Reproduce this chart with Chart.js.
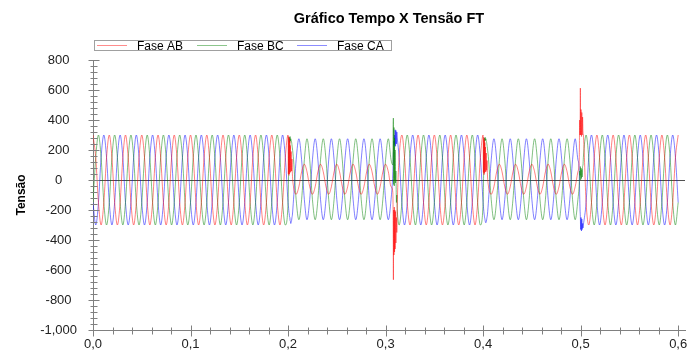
<!DOCTYPE html>
<html lang="pt-BR">
<head>
<meta charset="utf-8">
<title>Gráfico Tempo X Tensão FT</title>
<script src="https://cdn.jsdelivr.net/npm/chart.js@4.4.1/dist/chart.umd.min.js"></script>
<style>
    html, body { margin: 0; padding: 0; background: #fff; }
    #grafico { display: block; }
</style>
</head>
<body>
<canvas id="grafico" width="699" height="354"></canvas>
<script>
// tempo (s) de cada amostra
var tempo = [
    0, 0.0028, 0.0056, 0.0083, 0.0111, 0.0139, 0.0167, 0.0194, 0.0222, 0.025, 0.0278, 0.0306, 0.0333, 0.0361, 0.0389, 0.0417, 0.0444, 0.0472,
    0.05, 0.0528, 0.0556, 0.0583, 0.0611, 0.0639, 0.0667, 0.0694, 0.0722, 0.075, 0.0778, 0.0806, 0.0833, 0.0861, 0.0889, 0.0917, 0.0944, 0.0972,
    0.1, 0.1028, 0.1056, 0.1083, 0.1111, 0.1139, 0.1167, 0.1194, 0.1222, 0.125, 0.1278, 0.1306, 0.1333, 0.1361, 0.1389, 0.1417, 0.1444, 0.1472,
    0.15, 0.1528, 0.1556, 0.1583, 0.1611, 0.1639, 0.1667, 0.1694, 0.1722, 0.175, 0.1778, 0.1806, 0.1833, 0.1861, 0.1889, 0.1917, 0.1944, 0.1972,
    0.2, 0.2003, 0.2006, 0.2009, 0.2012, 0.2015, 0.2018, 0.2021, 0.2024, 0.2028, 0.2032, 0.2036, 0.204, 0.2044, 0.2056, 0.2083, 0.2111, 0.2139, 0.2167, 0.2194, 0.2222, 0.225, 0.2278, 0.2306, 0.2333, 0.2361, 0.2389, 0.2417, 0.2444, 0.2472,
    0.25, 0.2528, 0.2556, 0.2583, 0.2611, 0.2639, 0.2667, 0.2694, 0.2722, 0.275, 0.2778, 0.2806, 0.2833, 0.2861, 0.2889, 0.2917, 0.2944, 0.2972,
    0.3, 0.3028, 0.3056, 0.3074, 0.3078, 0.308, 0.3083, 0.3086, 0.3089, 0.3092, 0.3095, 0.3098, 0.3102, 0.3106, 0.3111, 0.3115, 0.312, 0.3139, 0.3167, 0.3194, 0.3222, 0.325, 0.3278, 0.3306, 0.3333, 0.3361, 0.3389, 0.3417, 0.3444, 0.3472,
    0.35, 0.3528, 0.3556, 0.3583, 0.3611, 0.3639, 0.3667, 0.3694, 0.3722, 0.375, 0.3778, 0.3806, 0.3833, 0.3861, 0.3889, 0.3917, 0.3944, 0.3972,
    0.4, 0.4003, 0.4006, 0.4009, 0.4012, 0.4015, 0.4018, 0.4021, 0.4024, 0.4028, 0.4032, 0.4036, 0.404, 0.4044, 0.4056, 0.4083, 0.4111, 0.4139, 0.4167, 0.4194, 0.4222, 0.425, 0.4278, 0.4306, 0.4333, 0.4361, 0.4389, 0.4417, 0.4444, 0.4472,
    0.45, 0.4528, 0.4556, 0.4583, 0.4611, 0.4639, 0.4667, 0.4694, 0.4722, 0.475, 0.4778, 0.4806, 0.4833, 0.4861, 0.4889, 0.4917, 0.4944, 0.4972, 0.4986, 0.499, 0.4994, 0.4997,
    0.5, 0.5004, 0.5008, 0.5012, 0.5016, 0.502, 0.5024, 0.5028, 0.5056, 0.5083, 0.5111, 0.5139, 0.5167, 0.5194, 0.5222, 0.525, 0.5278, 0.5306, 0.5333, 0.5361, 0.5389, 0.5417, 0.5444, 0.5472,
    0.55, 0.5528, 0.5556, 0.5583, 0.5611, 0.5639, 0.5667, 0.5694, 0.5722, 0.575, 0.5778, 0.5806, 0.5833, 0.5861, 0.5889, 0.5917, 0.5944, 0.5972,
    0.6
];

var faseAB = [
    300, 150, -150, -300, -150, 150, 300, 150, -150, -300, -150, 150, 300, 150, -150, -300, -150, 150,
    300, 150, -150, -300, -150, 150, 300, 150, -150, -300, -150, 150, 300, 150, -150, -300, -150, 150,
    300, 150, -150, -300, -150, 150, 300, 150, -150, -300, -150, 150, 300, 150, -150, -300, -150, 150,
    300, 150, -150, -300, -150, 150, 300, 150, -150, -300, -150, 150, 300, 150, -150, -300, -150, 150,
    300, 40, 290, 30, 280, 40, 260, 50, 230, 55, 190, 60, 140, 45, -45, -95, -45, 55, 105, 55, -45, -95, -45, 55, 105, 55, -45, -95, -45, 55,
    105, 55, -45, -95, -45, 55, 105, 55, -45, -95, -45, 55, 105, 55, -45, -95, -45, 55,
    105, 55, -45, -80, -300, -665, -200, -500, -180, -480, -200, -460, -210, -420, -250, -350, -160, 150, 300, 150, -150, -300, -150, 150, 300, 150, -150, -300, -150, 150,
    300, 150, -150, -300, -150, 150, 300, 150, -150, -300, -150, 150, 300, 150, -150, -300, -150, 150,
    300, 50, 285, 35, 270, 45, 250, 55, 220, 55, 180, 65, 130, 40, -45, -95, -45, 55, 105, 55, -45, -95, -45, 55, 105, 55, -45, -95, -45, 55,
    105, 55, -45, -95, -45, 55, 105, 55, -45, -95, -45, 55, 105, 55, -45, -95, -45, 55, 150, 400, 300, 613,
    300, 470, 290, 450, 300, 420, 320, 300, -150, -300, -150, 150, 300, 150, -150, -300, -150, 150, 300, 150, -150, -300, -150, 150,
    300, 150, -150, -300, -150, 150, 300, 150, -150, -300, -150, 150, 300, 150, -150, -300, -150, 150,
    300
];

var faseBC = [
    -150, 150, 300, 150, -150, -300, -150, 150, 300, 150, -150, -300, -150, 150, 300, 150, -150, -300,
    -150, 150, 300, 150, -150, -300, -150, 150, 300, 150, -150, -300, -150, 150, 300, 150, -150, -300,
    -150, 150, 300, 150, -150, -300, -150, 150, 300, 150, -150, -300, -150, 150, 300, 150, -150, -300,
    -150, 150, 300, 150, -150, -300, -150, 150, 300, 150, -150, -300, -150, 150, 300, 150, -150, -300,
    -150, -60, 60, 170, 250, 285, 250, 290, 260, 275, 265, 255, 235, 215, 135, -130, -265, -130, 135, 275, 135, -130, -265, -130, 135, 275, 135, -130, -265, -130,
    135, 275, 135, -130, -265, -130, 135, 275, 135, -130, -265, -130, 135, 275, 135, -130, -265, -130,
    135, 275, 135, 100, 380, 413, -30, 350, -40, 280, 0, 200, -20, 60, -150, -100, -200, -300, -150, 150, 300, 150, -150, -300, -150, 150, 300, 150, -150, -300,
    -150, 150, 300, 150, -150, -300, -150, 150, 300, 150, -150, -300, -150, 150, 300, 150, -150, -300,
    -150, -50, 70, 180, 255, 280, 260, 285, 265, 275, 262, 250, 232, 212, 135, -130, -265, -130, 135, 275, 135, -130, -265, -130, 135, 275, 135, -130, -265, -130,
    135, 275, 135, -130, -265, -130, 135, 275, 135, -130, -265, -130, 135, 275, 135, -130, -265, -130, -20, 60, 30, 90,
    0, 80, 10, 70, 20, 90, 100, 150, 300, 150, -150, -300, -150, 150, 300, 150, -150, -300, -150, 150, 300, 150, -150, -300,
    -150, 150, 300, 150, -150, -300, -150, 150, 300, 150, -150, -300, -150, 150, 300, 150, -150, -300,
    -150
];

var faseCA = [
    -150, -300, -150, 150, 300, 150, -150, -300, -150, 150, 300, 150, -150, -300, -150, 150, 300, 150,
    -150, -300, -150, 150, 300, 150, -150, -300, -150, 150, 300, 150, -150, -300, -150, 150, 300, 150,
    -150, -300, -150, 150, 300, 150, -150, -300, -150, 150, 300, 150, -150, -300, -150, 150, 300, 150,
    -150, -300, -150, 150, 300, 150, -150, -300, -150, 150, 300, 150, -150, -300, -150, 150, 300, 150,
    -150, -170, -190, -215, -225, -245, -250, -270, -275, -290, -280, -270, -250, -235, -130, 135, 275, 135, -130, -265, -130, 135, 275, 135, -130, -265, -130, 135, 275, 135,
    -130, -265, -130, 135, 275, 135, -130, -265, -130, 135, 275, 135, -130, -265, -130, 135, 275, 135,
    -130, -265, -130, 40, 120, 180, 200, 260, 230, 300, 240, 335, 225, 330, 240, 320, 280, 150, -150, -300, -150, 150, 300, 150, -150, -300, -150, 150, 300, 150,
    -150, -300, -150, 150, 300, 150, -150, -300, -150, 150, 300, 150, -150, -300, -150, 150, 300, 150,
    -150, -175, -200, -220, -235, -250, -258, -272, -280, -285, -278, -266, -248, -232, -130, 135, 275, 135, -130, -265, -130, 135, 275, 135, -130, -265, -130, 135, 275, 135,
    -130, -265, -130, 135, 275, 135, -130, -265, -130, 135, 275, 135, -130, -265, -130, 135, 275, 135, 60, -100, -200, -243,
    -330, -250, -340, -260, -330, -290, -320, -300, -150, 150, 300, 150, -150, -300, -150, 150, 300, 150, -150, -300, -150, 150, 300, 150,
    -150, -300, -150, 150, 300, 150, -150, -300, -150, 150, 300, 150, -150, -300, -150, 150, 300, 150,
    -150
];

var rotulosFase = ['Fase AB', 'Fase BC', 'Fase CA'];
var coresFase = ['#ff0000', '#008000', '#0000ff'];
var coresLegenda = ['rgba(255,0,0,0.45)', 'rgba(0,128,0,0.45)', 'rgba(0,0,255,0.45)'];
var ticksTempo = [0, 0.1, 0.2, 0.3, 0.4, 0.5, 0.6];
var ticksTensao = [-1000, -800, -600, -400, -200, 0, 200, 400, 600, 800];

var FONTE = '"Liberation Sans", Arial, sans-serif';

function pontos(valores) {
    return tempo.map(function (t, i) {
        return { x: t, y: valores[i] };
    });
}

// ticks cruzando os eixos (maiores e menores)
var marcasEixos = {
    id: 'marcasEixos',
    afterDraw: function (chart) {
        var ctx = chart.ctx;
        var x = chart.scales.x;
        var y = chart.scales.y;
        var ax = Math.round(chart.chartArea.left) + 0.5;
        var ay = Math.round(chart.chartArea.bottom) + 0.5;
        ctx.save();
        ctx.strokeStyle = '#808080';
        ctx.lineWidth = 1;
        ctx.beginPath();
        for (var v = -1000; v <= 800; v += 40) {
            var py = Math.round(y.getPixelForValue(v)) + 0.5;
            var ly = (v % 200 === 0) ? 5 : 3;
            ctx.moveTo(ax - ly, py);
            ctx.lineTo(ax + ly + 1, py);
        }
        for (var i = 0; i <= 30; i++) {
            var px = Math.round(x.getPixelForValue(i * 0.02)) + 0.5;
            var lx = (i % 5 === 0) ? 5 : 3;
            ctx.moveTo(px, ay - lx);
            ctx.lineTo(px, ay + lx + 1);
        }
        ctx.stroke();
        ctx.restore();
    }
};

// legenda com moldura, no topo à esquerda
var legendaCaixa = {
    id: 'legendaCaixa',
    afterDraw: function (chart) {
        var ctx = chart.ctx;
        ctx.save();
        ctx.strokeStyle = '#a0a0a0';
        ctx.lineWidth = 1;
        ctx.strokeRect(94.5, 40.5, 297, 10);
        ctx.font = '12px ' + FONTE;
        ctx.textBaseline = 'alphabetic';
        for (var i = 0; i < rotulosFase.length; i++) {
            var x0 = 97 + i * 100;
            ctx.fillStyle = coresLegenda[i];
            ctx.fillRect(x0, 45, 30, 1);
            ctx.fillStyle = '#000';
            ctx.fillText(rotulosFase[i], x0 + 40, 50);
        }
        ctx.restore();
    }
};

document.addEventListener('DOMContentLoaded', function () {
    var canvas = document.getElementById('grafico');

    new Chart(canvas, {
        type: 'line',
        data: {
            datasets: [
                { label: rotulosFase[0], data: pontos(faseAB), borderColor: coresFase[0] },
                { label: rotulosFase[1], data: pontos(faseBC), borderColor: coresFase[1] },
                { label: rotulosFase[2], data: pontos(faseCA), borderColor: coresFase[2] }
            ]
        },
        options: {
            responsive: false,
            animation: false,
            devicePixelRatio: 1,
            parsing: false,
            normalized: true,
            layout: { padding: { left: 0, right: 14, top: 0, bottom: 0 } },
            elements: {
                line: { borderWidth: 0.5, cubicInterpolationMode: 'monotone', fill: false },
                point: { radius: 0, hoverRadius: 0 }
            },
            plugins: {
                legend: { display: false },
                tooltip: { enabled: false },
                title: {
                    display: true,
                    text: 'Gráfico Tempo X Tensão FT',
                    fullSize: false,
                    color: '#000',
                    font: { family: FONTE, size: 14.5, weight: 'bold' },
                    padding: { top: 10, bottom: 32.6 }
                }
            },
            scales: {
                x: {
                    type: 'linear',
                    min: 0,
                    max: 0.607,
                    afterBuildTicks: function (s) {
                        s.ticks = ticksTempo.map(function (v) { return { value: v }; });
                    },
                    afterFit: function (s) { s.height = 24; },
                    grid: { display: true, color: 'transparent', drawTicks: false },
                    border: { display: true, color: '#808080' },
                    ticks: {
                        autoSkip: false,
                        maxRotation: 0,
                        padding: 7,
                        color: '#222',
                        font: { family: FONTE, size: 13 },
                        callback: function (v) { return Number(v).toFixed(1).replace('.', ','); }
                    }
                },
                y: {
                    type: 'linear',
                    min: -1000,
                    max: 800,
                    afterBuildTicks: function (s) {
                        s.ticks = ticksTensao.map(function (v) { return { value: v }; });
                    },
                    afterFit: function (s) { s.width = 93; },
                    grid: {
                        drawTicks: false,
                        color: function (c) { return c.tick && c.tick.value === 0 ? '#505050' : 'transparent'; }
                    },
                    border: { display: true, color: '#808080' },
                    title: {
                        display: true,
                        text: 'Tensão',
                        color: '#000',
                        font: { family: FONTE, size: 12, weight: 'bold' },
                        padding: { top: 14, bottom: 0 }
                    },
                    ticks: {
                        crossAlign: 'center',
                        padding: 16,
                        color: '#222',
                        font: { family: FONTE, size: 13 }
                    }
                }
            }
        },
        plugins: [marcasEixos, legendaCaixa]
    });
});
</script>
</body>
</html>
